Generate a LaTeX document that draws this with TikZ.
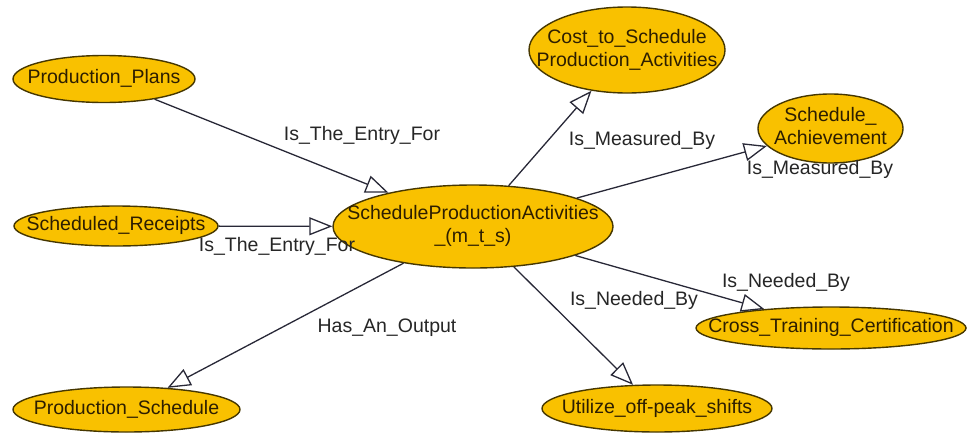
\documentclass[tikz,border=0pt]{standalone}
\usepackage{fontspec}
\setmainfont{Liberation Sans}
\usetikzlibrary{shapes.geometric,arrows.meta}
\definecolor{conceptfill}{RGB}{249,193,0}
\definecolor{conceptline}{RGB}{70,55,0}
\definecolor{conceptink}{RGB}{45,30,0}
\definecolor{relline}{RGB}{40,40,55}
\newcommand{\ntext}[1]{\makebox[0pt]{\begin{tabular}{@{}c@{}}#1\end{tabular}}}
\begin{document}
\begin{tikzpicture}[x=1pt,y=-1pt,font=\fontsize{19.5}{23}\selectfont,
  concept/.style={draw=conceptline,line width=1.4pt,fill=conceptfill,ellipse,inner sep=0pt,text=conceptink},
  rel/.style={draw=relline,line width=1.3pt,-{Triangle[fill=white,length=23pt,width=18pt]}},
  reltext/.style={text=black!85,inner sep=0pt}]
\useasboundingbox (0,0) rectangle (973,434);
\node[concept,minimum width=182pt,minimum height=47pt] (plans) at (104,79) {\ntext{Production\_Plans}};
\node[concept,minimum width=204pt,minimum height=40pt] (receipts) at (116,226) {\ntext{Scheduled\_Receipts}};
\node[concept,minimum width=280pt,minimum height=83pt] (sched) at (473,226.5) {\ntext{ScheduleProductionActivities\\\_(m\_t\_s)}};
\node[concept,minimum width=196pt,minimum height=86pt] (cost) at (627,50) {\ntext{Cost\_to\_Schedule\\Production\_Activities}};
\node[concept,minimum width=145pt,minimum height=69pt] (achieve) at (830.5,128.5) {\ntext{Schedule\_\\Achievement}};
\node[concept,minimum width=270pt,minimum height=42pt] (cross) at (831,328) {\ntext{Cross\_Training\_Certification}};
\node[concept,minimum width=227pt,minimum height=45pt] (output) at (126.5,409.5) {\ntext{Production\_Schedule}};
\node[concept,minimum width=230pt,minimum height=47pt] (offpeak) at (657,408.5) {\ntext{Utilize\_off-peak\_shifts}};

\path[rel] (plans) -- (sched);
\path[rel] (receipts) -- (sched);
\path[rel] (sched) -- (cost);
\path[rel] (sched) -- (achieve);
\path[rel] (sched) -- (cross);
\path[rel] (sched) -- (offpeak);
\path[rel] (sched) -- (output);

\node[reltext] (entry1) at (362,135) {Is\_The\_Entry\_For};
\node[reltext] (entry2) at (277,246) {Is\_The\_Entry\_For};
\node[reltext] (measured1) at (642,140) {Is\_Measured\_By};
\node[reltext] (measured2) at (820,169) {Is\_Measured\_By};
\node[reltext] (needed1) at (786,282) {Is\_Needed\_By};
\node[reltext] (needed2) at (634,300) {Is\_Needed\_By};
\node[reltext] (hasout) at (387,328) {Has\_An\_Output};
\end{tikzpicture}
\end{document}
